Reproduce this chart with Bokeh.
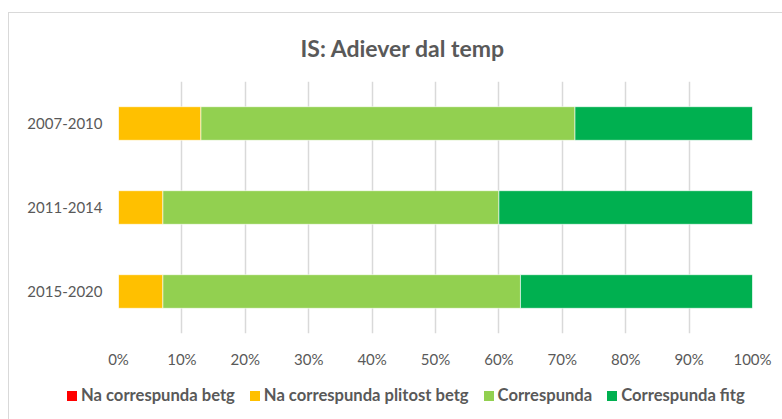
from bokeh.plotting import figure
from bokeh.layouts import column
from bokeh.models import ColumnDataSource, NumeralTickFormatter, FixedTicker, FactorRange, Range1d, Div
from bokeh.embed import file_html
from bokeh.resources import INLINE

periods = ["2007-2010", "2011-2014", "2015-2020"]
series = ["Na correspunda betg", "Na correspunda plitost betg", "Correspunda", "Correspunda fitg"]
na_betg = [0.0, 0.0, 0.0]
na_plitost = [0.13, 0.07, 0.07]
correspunda = [0.59, 0.53, 0.564]
correspunda_fitg = [0.28, 0.40, 0.366]
colors = ["#FF0000", "#FFC000", "#92D050", "#00B050"]
x_ticks = [0, 0.1, 0.2, 0.3, 0.4, 0.5, 0.6, 0.7, 0.8, 0.9, 1.0]

keys = ["s0", "s1", "s2", "s3"]
source = ColumnDataSource(dict(period=periods, s0=na_betg, s1=na_plitost, s2=correspunda, s3=correspunda_fitg))

FONT = "Lato"
GREY = "#595959"

p = figure(
    y_range=FactorRange(*list(reversed(periods))),
    x_range=Range1d(0, 1),
    frame_width=634, frame_height=252,
    min_border_left=109, min_border_right=30, min_border_top=68, min_border_bottom=40,
    output_backend="svg", toolbar_location=None, tools="",
    title="IS: Adiever dal temp",
)

p.hbar_stack(keys, y="period", height=0.4, color=colors, source=source,
             line_color="white", line_width=0.6)

p.title.align = "left"
p.title.offset = 182
p.title.vertical_align = "middle"
p.title.standoff = 37
p.title.text_font = FONT
p.title.text_font_size = "23px"
p.title.text_font_style = "bold"
p.title.text_color = GREY

p.outline_line_color = None
p.background_fill_color = "white"
p.border_fill_color = "white"

p.xaxis.ticker = FixedTicker(ticks=x_ticks)
p.xaxis.formatter = NumeralTickFormatter(format="0%")
for ax in (p.xaxis, p.yaxis):
    ax.axis_line_color = None
    ax.major_tick_line_color = None
    ax.minor_tick_line_color = None
    ax.major_label_text_font = FONT
    ax.major_label_text_font_size = "15px"
    ax.major_label_text_color = GREY
p.xaxis.major_label_standoff = 10
p.yaxis.major_label_standoff = 10

p.xgrid.ticker = FixedTicker(ticks=x_ticks)
p.xgrid.grid_line_color = "#d9d9d9"
p.xgrid.grid_line_width = 1.5
p.ygrid.grid_line_color = None

# legend strip below the chart, built from the series names and colours
items_html = "".join(
    f'<span style="display:inline-block;width:10px;height:10px;background:{c};margin-right:4px;"></span>'
    f'<span style="margin-right:15px;">{s}</span>'
    for s, c in zip(series, colors)
)
legend_div = Div(
    text=(f'<div style="display:flex;align-items:center;height:20px;margin-top:8px;padding-left:53px;'
          f'font-family:Lato;font-weight:bold;font-size:16.6px;color:{GREY};white-space:nowrap;">'
          f'{items_html}</div>'),
    width=773, height=46,
)

layout = column(p, legend_div, spacing=0,
                styles={"margin-top": "12px", "margin-left": "8px",
                        "border-top": "1px solid #d9d9d9", "border-left": "1px solid #d9d9d9"})

open("out.html", "w").write(file_html(layout, INLINE))
